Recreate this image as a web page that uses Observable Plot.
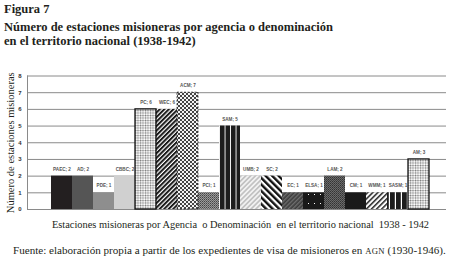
<!DOCTYPE html>
<html><head><meta charset="utf-8">
<script src="https://cdn.jsdelivr.net/npm/d3@7"></script>
<script src="https://cdn.jsdelivr.net/npm/@observablehq/plot@0.6"></script>
<style>
body{margin:0;width:450px;height:267px;background:#fff;position:relative;overflow:hidden;font-family:"Liberation Serif",serif;color:#231f20}
.t{position:absolute;left:4px;white-space:nowrap;font-weight:bold}
#chart{position:absolute;left:0;top:55px}
#cap{position:absolute;left:13px;top:244px;font-size:11.1px;white-space:nowrap}
</style></head><body>
<div class="t" style="top:2px;font-size:12.5px">Figura 7</div>
<div class="t" style="top:21px;font-size:12.5px;line-height:13.5px">Número de estaciones misioneras por agencia o denominación<br>en el territorio nacional (1938-1942)</div>
<div id="chart"></div>
<div id="cap">Fuente: elaboración propia a partir de los expedientes de visa de misioneros en <span style="font-size:0.78em;letter-spacing:0.3px">AGN</span> (1930-1946).</div>
<script>
const agencies = ["PAEC","AD","PDE","CBBC","PC","WEC","ACM","PCI","SAM","UMB","SC","EC","ELSA","LAM","CM","WMM","SASM","AM"];
const stations = [2,2,1,2,6,6,7,1,5,2,2,1,1,2,1,1,1,3];
const yTicks = [0,1,2,3,4,5,6,7,8];
const xTitle = "Estaciones misioneras por Agencia  o Denominación  en el territorio nacional  1938 - 1942";
const yTitle = "Número de estaciones misioneras";
const patternIds = ["s1","s2","s3","s4","dotgrid","fwd","check","grid","vlines","lightfwd","back","darkfwd","dots","darkgrid","s5","fwd2","vlines2","dotgrid"];
const outlined = ["PC","AM"];
const dashed = ["ACM"];

const data = agencies.map((a, i) => ({agency: a, value: stations[i], label: `${a}; ${stations[i]}`}));

const chart = Plot.plot({
  width: 450, height: 180,
  marginTop: 20.5, marginBottom: 26, marginLeft: 27, marginRight: 4,
  x: {domain: agencies, padding: 0, axis: null, insetLeft: 16, insetRight: 10},
  y: {domain: [0, 8], axis: null},
  color: {type: "ordinal", domain: agencies, range: patternIds.map(p => `url(#${p})`)},
  style: {background: "transparent", overflow: "visible"},
  marks: [
    Plot.ruleY(yTicks, {stroke: "#8a8a8a", strokeWidth: 1}),
    Plot.frame({anchor: "left", stroke: "#8a8a8a"}),
    Plot.axisY({ticks: yTicks, tickSize: 0, tickPadding: 6, fontSize: 6, fontWeight: "bold", fill: "#333", fontFamily: "Liberation Sans, sans-serif", label: null}),
    Plot.barY(data, {x: "agency", y: "value", fill: "agency"}),
    Plot.barY(data, {filter: d => outlined.includes(d.agency), x: "agency", y: "value", fill: "none", stroke: "#111", strokeWidth: 1.3}),
    Plot.barY(data, {filter: d => dashed.includes(d.agency), x: "agency", y: "value", fill: "none", stroke: "#222", strokeWidth: 0.8, strokeDasharray: "2,1.5"}),
    Plot.text(data, {x: "agency", y: "value", text: "label", dy: -7, fontSize: 4.6, fontWeight: "bold", fill: "#555", fontFamily: "Liberation Sans, sans-serif"}),
    Plot.text([xTitle], {frameAnchor: "bottom", dy: 15, dx: 3.5, text: d => d, fontSize: 10.4, fill: "#231f20", fontFamily: "Liberation Serif, serif", lineAnchor: "middle"}),
    Plot.text([yTitle], {frameAnchor: "left", textAnchor: "middle", rotate: -90, dx: -17, text: d => d, fontSize: 10.5, fill: "#231f20", fontFamily: "Liberation Serif, serif", lineAnchor: "middle"})
  ]
});

// pattern definitions
const svg = d3.select(chart);
const defs = svg.insert("defs", ":first-child");
function solid(id, c){ const p = defs.append("pattern").attr("id", id).attr("patternUnits","userSpaceOnUse").attr("width",4).attr("height",4); p.append("rect").attr("width",4).attr("height",4).attr("fill",c); }
solid("s1", "#231f20"); solid("s2", "#555555"); solid("s3", "#8e8e8e"); solid("s4", "#d0d0d0"); solid("s5", "#1a1a1a");
function grid(id, bg, line, dot, size){
  const p = defs.append("pattern").attr("id", id).attr("patternUnits","userSpaceOnUse").attr("width",size).attr("height",size);
  p.append("rect").attr("width",size).attr("height",size).attr("fill",bg);
  p.append("rect").attr("width",size).attr("height",1).attr("fill",line);
  p.append("rect").attr("width",1).attr("height",size).attr("fill",line);
  p.append("rect").attr("width",1).attr("height",1).attr("fill",dot);
}
grid("dotgrid", "#ffffff", "#c4c4c4", "#777", 2.5);
grid("grid", "#666666", "#9a9a9a", "#444", 2);
grid("darkgrid", "#444444", "#6a6a6a", "#333", 2);
function stripes(id, bg, fg, size, w, angle){
  const p = defs.append("pattern").attr("id", id).attr("patternUnits","userSpaceOnUse").attr("width",size).attr("height",size).attr("patternTransform",`rotate(${angle})`);
  p.append("rect").attr("width",size).attr("height",size).attr("fill",bg);
  p.append("rect").attr("width",w).attr("height",size).attr("fill",fg);
}
stripes("fwd", "#ffffff", "#1a1a1a", 3.2, 2, 45);
stripes("lightfwd", "#f2f2f2", "#c2c2c2", 3.4, 1.7, 45);
stripes("back", "#ffffff", "#111111", 4.6, 2.4, -45);
stripes("darkfwd", "#3c3c3c", "#6e6e6e", 3, 1.4, 45);
stripes("fwd2", "#ffffff", "#333333", 3.6, 1.6, 45);
stripes("vlines", "#ffffff", "#1d1d1d", 5.5, 4.6, 0);
stripes("vlines2", "#ffffff", "#1d1d1d", 6, 4.8, 0);
(function(){
  const p = defs.append("pattern").attr("id","check").attr("patternUnits","userSpaceOnUse").attr("width",4).attr("height",4);
  p.append("rect").attr("width",4).attr("height",4).attr("fill","#f4f4f4");
  p.append("rect").attr("width",2).attr("height",2).attr("fill","#444");
  p.append("rect").attr("x",2).attr("y",2).attr("width",2).attr("height",2).attr("fill","#444");
  const q = defs.append("pattern").attr("id","dots").attr("patternUnits","userSpaceOnUse").attr("width",6).attr("height",9);
  q.append("rect").attr("width",6).attr("height",9).attr("fill","#1a1a1a");
  q.append("rect").attr("x",2).attr("y",4).attr("width",1).attr("height",1).attr("fill","#fff");
})();
document.getElementById("chart").appendChild(chart);
</script>
</body></html>
